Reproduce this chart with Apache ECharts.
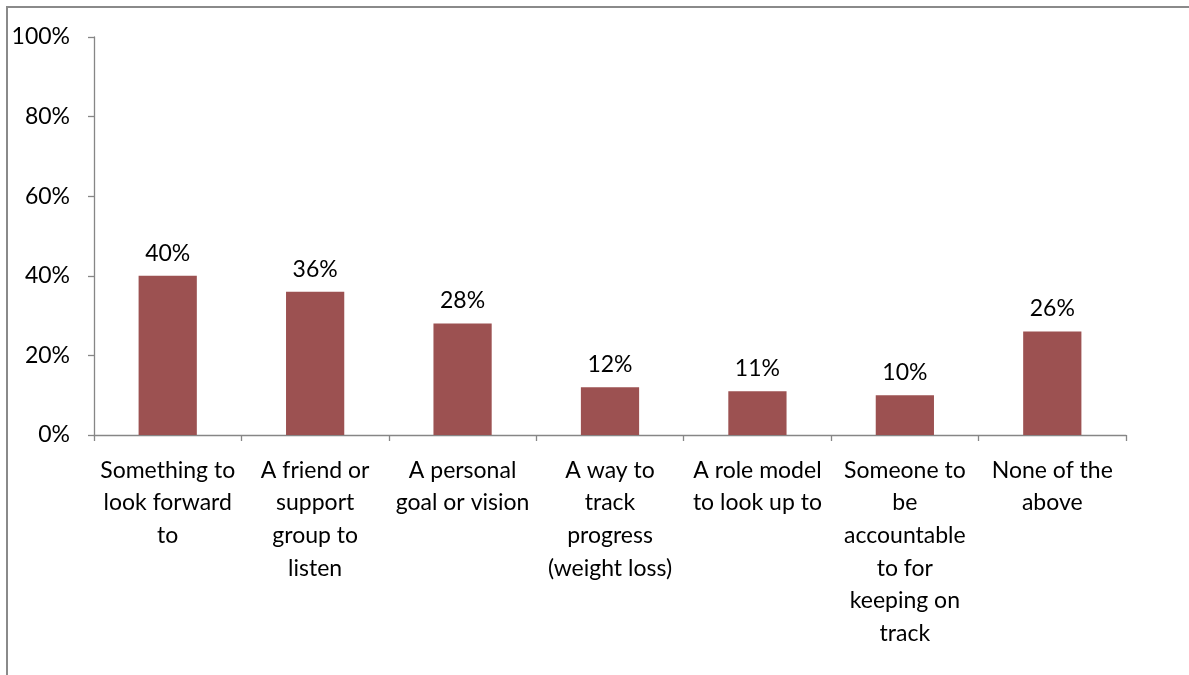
<!DOCTYPE html>
<html>
<head>
<meta charset="utf-8">
<script src="https://cdn.jsdelivr.net/npm/echarts@6/dist/echarts.min.js"></script>
<style>
  html, body { margin: 0; padding: 0; background: #fff; }
  #chart { width: 1189px; height: 675px; }
</style>
</head>
<body>
<div id="chart"></div>
<script>
// Survey answers (line breaks follow the wrapped labels under each bar)
const categories = [
  'Something to\nlook forward\nto',
  'A friend or\nsupport\ngroup to\nlisten',
  'A personal\ngoal or vision',
  'A way to\ntrack\nprogress\n(weight loss)',
  'A role model\nto look up to',
  'Someone to\nbe\naccountable\nto for\nkeeping on\ntrack',
  'None of the\nabove'
];
// Share of respondents, in percent
const shares = [40, 36, 28, 12, 11, 10, 26];
// Value axis ticks
const yTicks = [0, 20, 40, 60, 80, 100];

const FONT = 'Lato';
const TEXT = '#000';
const AXIS = '#868686';
const SIZE = 23;

const chart = echarts.init(document.getElementById('chart'), null, { renderer: 'canvas' });
chart.setOption({
  animation: false,
  backgroundColor: '#fff',
  textStyle: { fontFamily: FONT },
  graphic: [{
    type: 'rect',
    shape: { x: 7, y: 7, width: 1400, height: 900 },
    style: { fill: 'none', stroke: '#8a8a8a', lineWidth: 2 },
    silent: true
  }],
  grid: { left: 94, right: 63, top: 37, bottom: 240, containLabel: false },
  xAxis: {
    type: 'category',
    data: categories,
    axisLine: { lineStyle: { color: AXIS, width: 1.3 } },
    axisTick: { show: true, length: 6, alignWithLabel: false, lineStyle: { color: AXIS, width: 1.3 } },
    axisLabel: {
      interval: 0,
      margin: 19,
      color: TEXT,
      fontSize: SIZE,
      fontFamily: FONT,
      lineHeight: 32.6,
      align: 'center'
    }
  },
  yAxis: {
    type: 'value',
    min: yTicks[0],
    max: yTicks[yTicks.length - 1],
    interval: 20,
    axisLine: { show: true, lineStyle: { color: AXIS, width: 1.3 } },
    axisTick: { show: true, length: 6, lineStyle: { color: AXIS, width: 1.3 } },
    splitLine: { show: false },
    axisLabel: {
      margin: 24,
      color: TEXT,
      fontSize: SIZE,
      fontFamily: FONT,
      formatter: v => v + '%'
    }
  },
  series: [{
    type: 'bar',
    data: shares,
    barWidth: '39.5%',
    itemStyle: { color: '#9c5151' },
    label: {
      show: true,
      position: 'top',
      distance: 11,
      color: TEXT,
      fontSize: SIZE,
      fontFamily: FONT,
      formatter: p => p.value + '%'
    }
  }]
});
</script>
</body>
</html>
